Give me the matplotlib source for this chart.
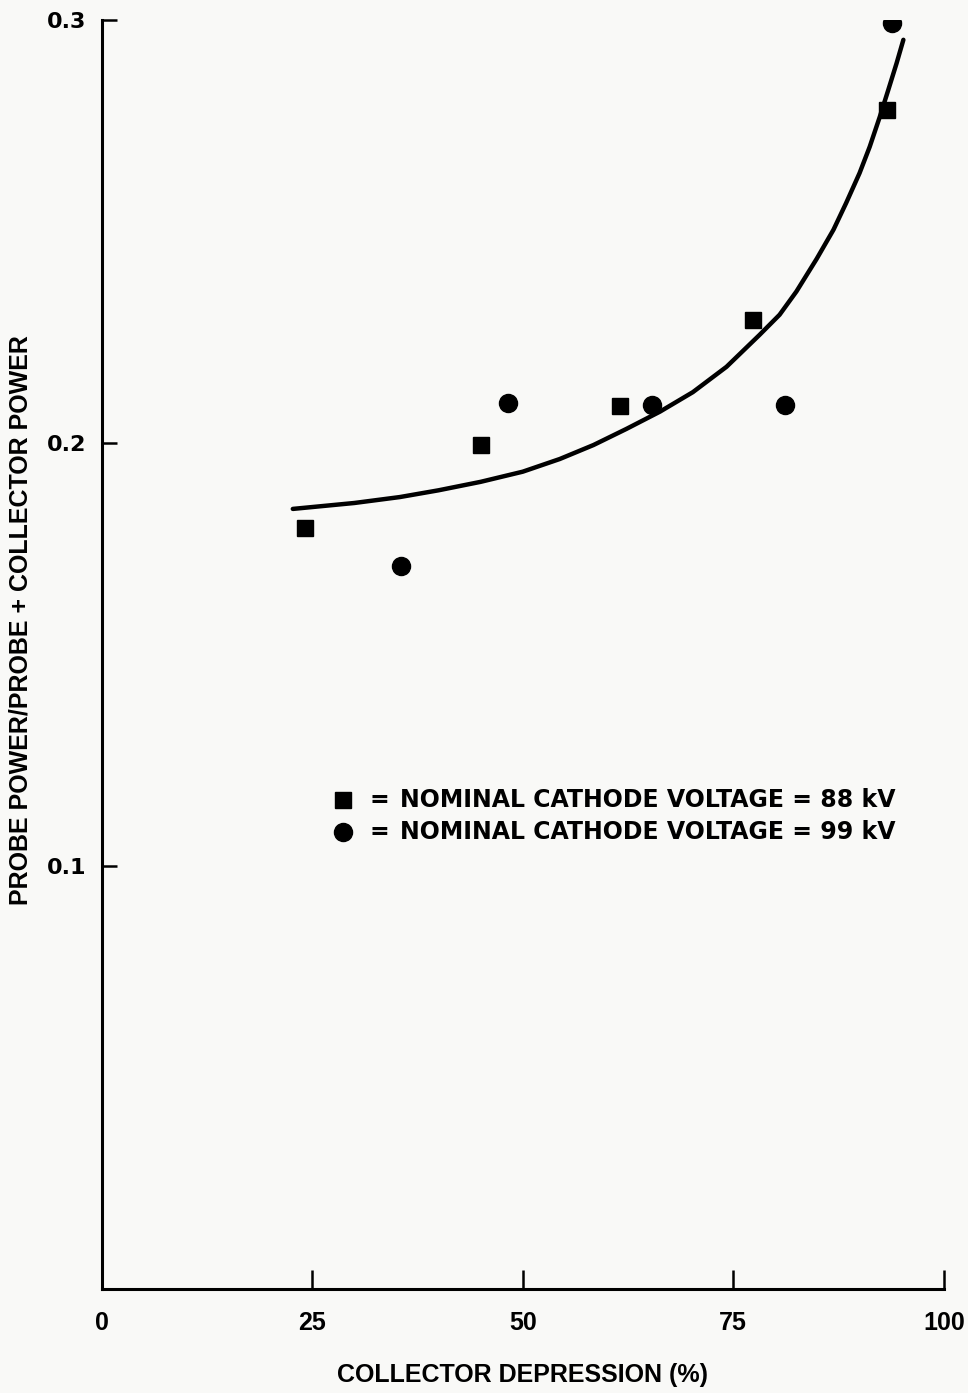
import matplotlib.pyplot as plt

# measured points, 88 kV cathode
sq_x = [24.2, 45.0, 61.6, 77.3, 93.3]
sq_y = [0.180, 0.1995, 0.2087, 0.2291, 0.2787]

# measured points, 99 kV cathode
ci_x = [35.6, 48.2, 65.4, 81.1, 93.9]
ci_y = [0.1709, 0.2095, 0.2090, 0.2090, 0.2993]

# hand-drawn trend curve
fit_x = [22.7, 30.0, 35.4, 40.0, 45.0, 50.0, 54.4, 58.4, 62.3, 66.3, 70.2,
         74.2, 78.1, 80.5, 82.5, 84.9, 86.9, 88.4, 90.0, 91.2, 92.4, 93.4,
         94.4, 95.2]
fit_y = [0.1844, 0.1858, 0.1872, 0.1888, 0.1908, 0.1932, 0.1962, 0.1995,
         0.2033, 0.2074, 0.2120, 0.2180, 0.2255, 0.2303, 0.2358, 0.2435,
         0.2504, 0.2567, 0.2638, 0.2700, 0.2771, 0.2834, 0.2898, 0.2953]

xticks = [0, 25, 50, 75, 100]
yticks = [0.1, 0.2, 0.3]
ytick_labels = ['0.1', '0.2', '0.3']

NARROW = ['Liberation Sans Narrow', 'Liberation Sans', 'DejaVu Sans']
WIDE = ['DejaVu Sans']

fig = plt.figure(figsize=(9.68, 13.93), dpi=100, facecolor='#f9f9f7')
ax = fig.add_axes([0.105, 0.0747, 0.87, 0.911])
ax.set_facecolor('#f9f9f7')

ax.plot(fit_x, fit_y, color='black', lw=3.2, solid_capstyle='round',
        solid_joinstyle='round')
ax.plot(sq_x, sq_y, 's', color='black', ms=12, ls='none')
ax.plot(ci_x, ci_y, 'o', color='black', ms=13, ls='none')

ax.set_xlim(0, 100)
ax.set_ylim(0, 0.3)
ax.spines['top'].set_visible(False)
ax.spines['right'].set_visible(False)
for s in ('left', 'bottom'):
    ax.spines[s].set_linewidth(2.2)

ax.set_xticks(xticks)
ax.set_xticklabels([str(v) for v in xticks], fontsize=18, fontweight='bold',
                   family=NARROW)
ax.set_yticks(yticks)
ax.set_yticklabels(ytick_labels, fontsize=16, fontweight='bold', family=WIDE)
ax.tick_params(axis='x', direction='in', length=14, width=1.8, pad=16)
ax.tick_params(axis='y', direction='in', length=11, width=1.8, pad=11)

ax.set_xlabel('COLLECTOR DEPRESSION (%)', fontsize=18, fontweight='bold',
              family=NARROW, labelpad=20)
ax.set_ylabel('PROBE POWER/PROBE + COLLECTOR POWER', fontsize=18,
              fontweight='bold', family=NARROW)
ax.yaxis.set_label_coords(-0.082, 0.527)

# key in the middle of the plot
leg = [('s', 12, '88'), ('o', 13, '99')]
for i, (m, ms, kv) in enumerate(leg):
    yy = 0.385 - i * 0.025
    ax.plot([0.287], [yy], m, color='black', ms=ms, transform=ax.transAxes,
            clip_on=False)
    ax.text(0.318, yy, '=', transform=ax.transAxes, fontsize=17,
            fontweight='bold', family=WIDE, va='center', ha='left')
    ax.text(0.354, yy, 'NOMINAL CATHODE VOLTAGE = ' + kv + ' kV',
            transform=ax.transAxes, fontsize=17, fontweight='bold',
            family=WIDE, va='center', ha='left')

fig.savefig('out.png', dpi=100, facecolor=fig.get_facecolor())
